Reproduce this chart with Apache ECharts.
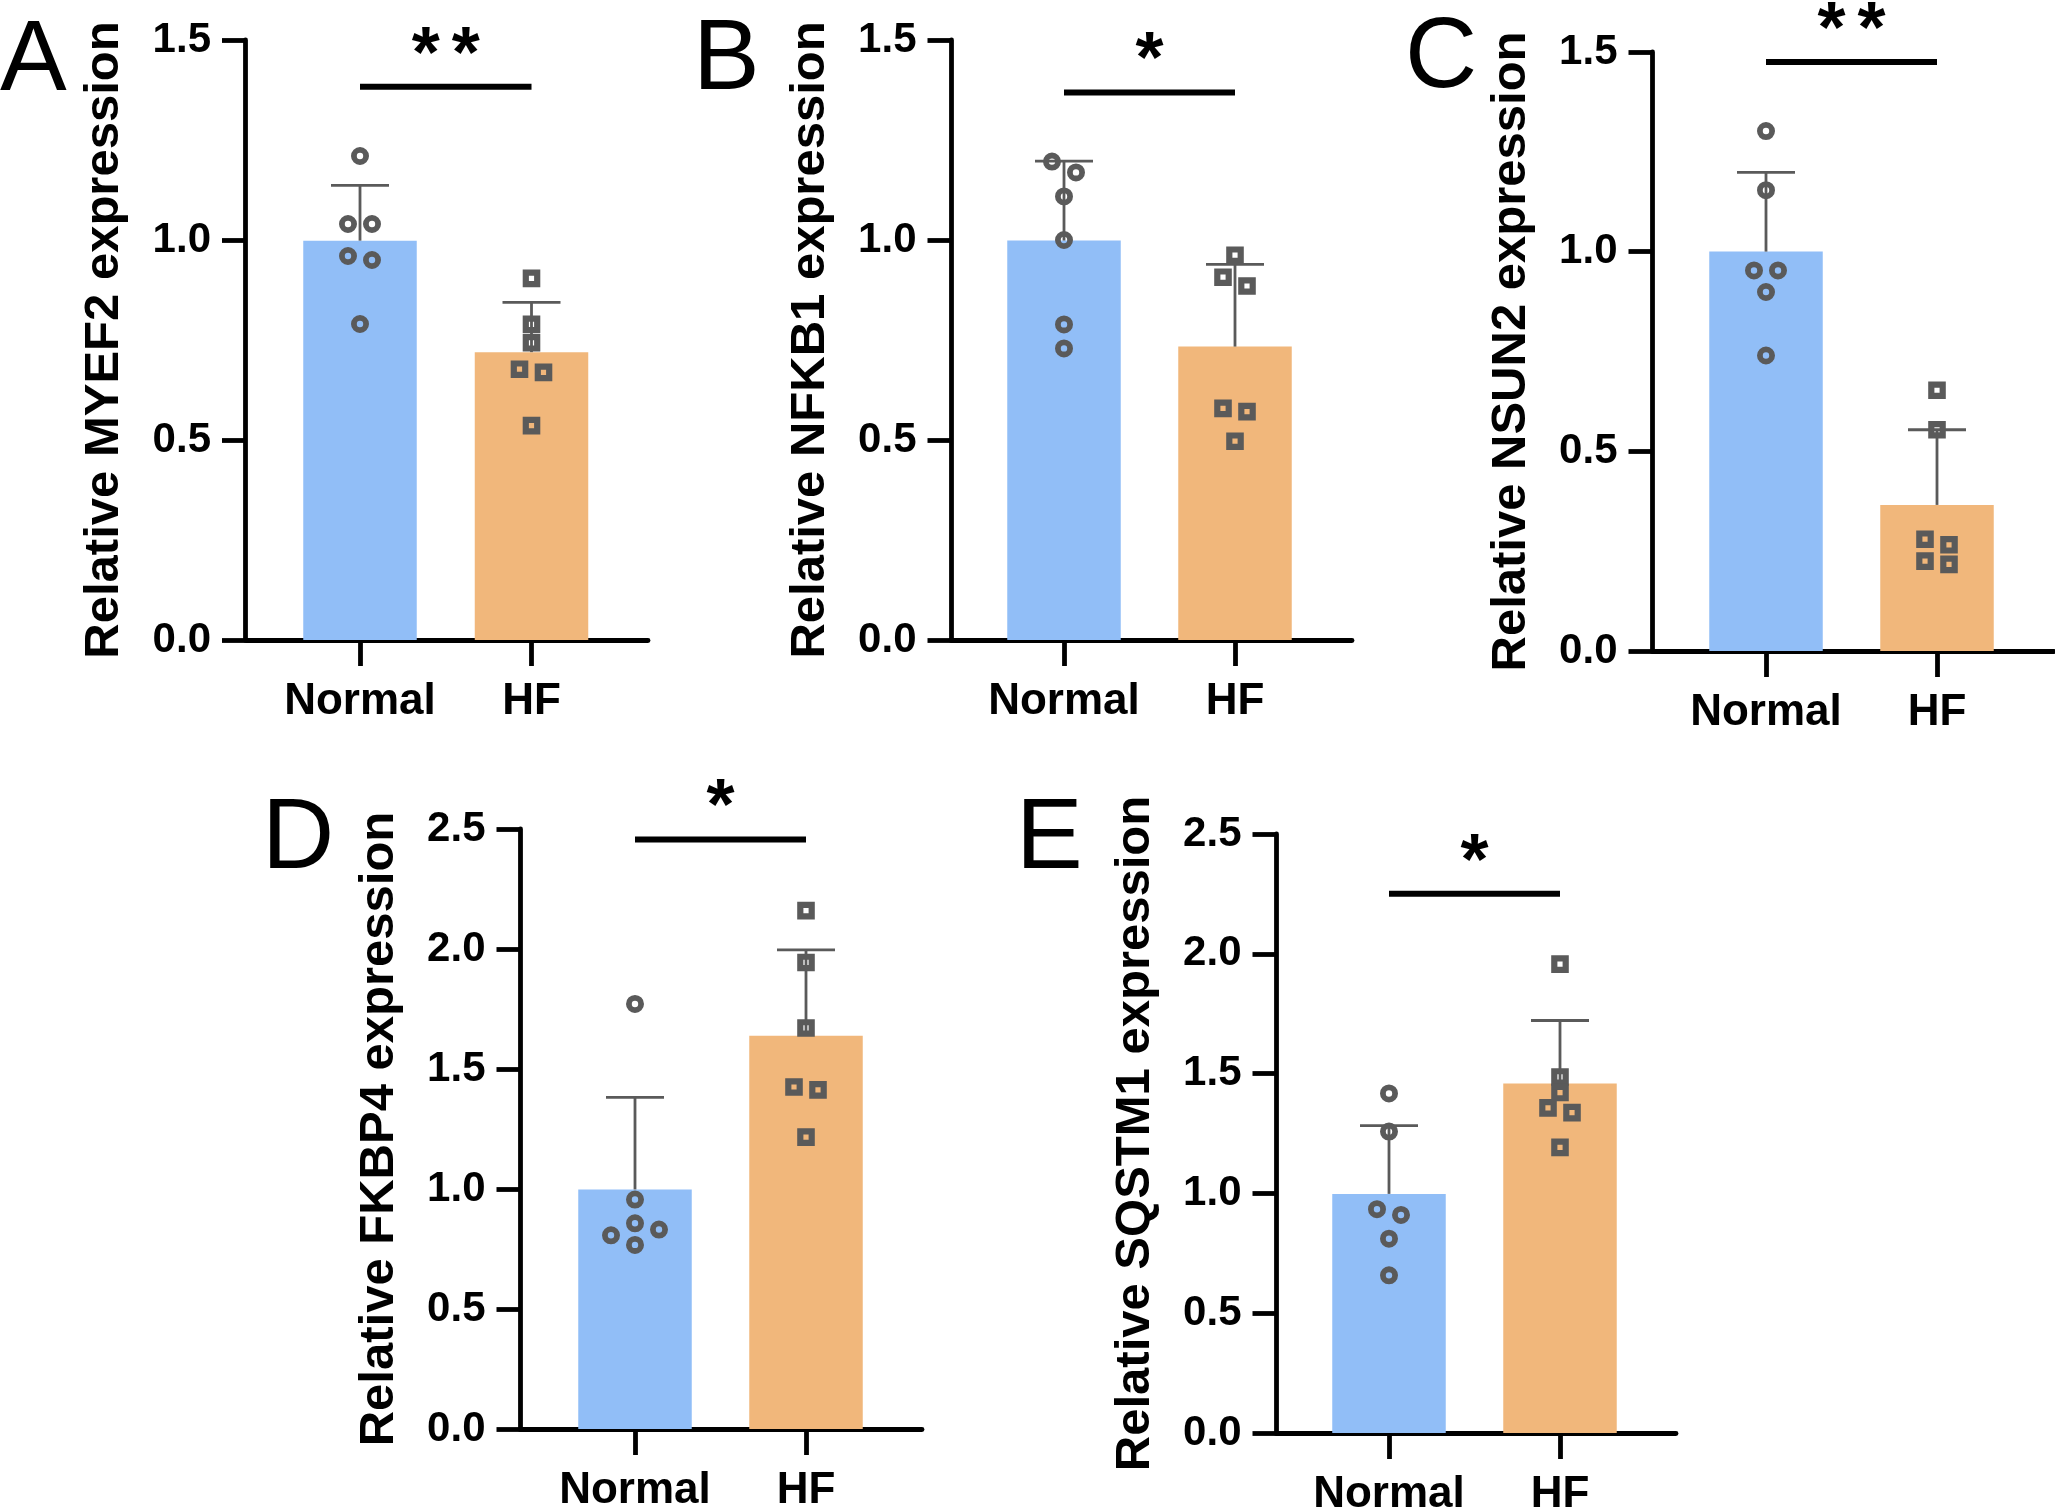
<!DOCTYPE html>
<html>
<head>
<meta charset="utf-8">
<script src="https://cdn.jsdelivr.net/npm/echarts@6/dist/echarts.min.js"></script>
<style>
html,body{margin:0;padding:0;background:#fff;}
#chart{width:2055px;height:1507px;}
</style>
</head>
<body>
<div id="chart"></div>
<script>
// ---------------- data ----------------
const categories = ['Normal', 'HF'];
const panelLetters = ['A', 'B', 'C', 'D', 'E'];
const yTitles = ['Relative MYEF2 expression', 'Relative NFKB1 expression', 'Relative NSUN2 expression',
                 'Relative FKBP4 expression', 'Relative SQSTM1 expression'];
const yMax = [1.5, 1.5, 1.5, 2.5, 2.5];
const yInterval = 0.5;

const normalA = [1.21, 1.04, 1.04, 0.96, 0.95, 0.79];
const hfA     = [0.904, 0.789, 0.743, 0.677, 0.669, 0.536];
const normalB = [1.196, 1.169, 1.109, 1.0, 0.789, 0.729];
const hfB     = [0.962, 0.907, 0.885, 0.579, 0.571, 0.497];
const normalC = [1.302, 1.154, 0.953, 0.953, 0.899, 0.74];
const hfC     = [0.653, 0.554, 0.28, 0.266, 0.225, 0.217];
const normalD = [1.771, 0.956, 0.857, 0.831, 0.807, 0.767];
const hfD     = [2.16, 1.944, 1.671, 1.425, 1.413, 1.216];
const normalE = [1.417, 1.258, 0.934, 0.91, 0.811, 0.658];
const hfE     = [1.957, 1.486, 1.421, 1.357, 1.337, 1.192];

const sigLevels = [1.383, 1.369, 1.475, 2.456, 2.251];
const sigMarks  = ['**', '*', '**', '*', '*'];

const groups = [[normalA, hfA], [normalB, hfB], [normalC, hfC], [normalD, hfD], [normalE, hfE]];

// ---------------- layout / style ----------------
const layout = [
  {ax: 245.5, top: 40,  h: 600, right: 648,  c0: 360,  sp: 171.5, lx: 0,    ly: 62},
  {ax: 951,   top: 40,  h: 600, right: 1352, c0: 1064, sp: 171,   lx: 693,  ly: 61},
  {ax: 1652,  top: 52,  h: 599, right: 2054, c0: 1766, sp: 171,   lx: 1405, ly: 59},
  {ax: 520,   top: 829, h: 600, right: 922,  c0: 635,  sp: 171,   lx: 262,  ly: 840},
  {ax: 1276,  top: 834, h: 599, right: 1676, c0: 1389, sp: 171,   lx: 1016, ly: 840}
];
const FONT = 'Arial, "Liberation Sans", sans-serif';
const barColors = ['#91BEF7', '#F1B77B'];
const markGray = '#5A5A5A';
const AXW = 4.8;

function mean(a) { return a.reduce((s, v) => s + v, 0) / a.length; }
function sd(a) { const m = mean(a); return Math.sqrt(a.reduce((s, v) => s + (v - m) * (v - m), 0) / (a.length - 1)); }

// simple beeswarm: horizontal pixel offsets so that symbols don't overlap
function swarm(values, pxPerUnit) {
  const h = 12, d = 15;
  const order = values.map((v, i) => i).sort((a, b) => values[b] - values[a]);
  const off = new Array(values.length).fill(0);
  const placed = [];
  const cands = [0, 1, -1, 2, -2, 3, -3, 4, -4];
  order.forEach(i => {
    const y = values[i] * pxPerUnit;
    for (const k of cands) {
      const dx = k * h;
      const hit = placed.some(p => Math.abs(p.y - y) < d && Math.abs(p.dx - dx) < d);
      if (!hit) { off[i] = dx; placed.push({y, dx}); break; }
    }
  });
  let cluster = [order[0]];
  const flush = () => {
    const ds = cluster.map(i => off[i]);
    const c = (Math.min(...ds) + Math.max(...ds)) / 2;
    cluster.forEach(i => { off[i] -= c; });
  };
  for (let j = 1; j < order.length; j++) {
    const a = order[j - 1], b = order[j];
    if ((values[a] - values[b]) * pxPerUnit < d) cluster.push(b);
    else { flush(); cluster = [b]; }
  }
  flush();
  return off;
}

const grid = [], xAxis = [], yAxis = [], series = [], graphic = [];

layout.forEach((L, p) => {
  const outer = 2 * p, inner = 2 * p + 1;
  grid.push({left: L.ax, top: L.top, width: L.right - L.ax, height: L.h, containLabel: false, outerBoundsMode: 'none'});
  grid.push({left: L.c0 - L.sp / 2, top: L.top, width: 2 * L.sp, height: L.h, containLabel: false, outerBoundsMode: 'none'});

  xAxis.push({gridIndex: outer, type: 'value', min: 0, max: 1, show: true,
    axisLine: {show: true, lineStyle: {color: '#000', width: AXW}},
    axisTick: {show: false}, axisLabel: {show: false}, splitLine: {show: false}});
  yAxis.push({gridIndex: outer, type: 'value', min: 0, max: yMax[p], interval: yInterval,
    axisLine: {show: true, lineStyle: {color: '#000', width: AXW}},
    axisTick: {show: true, length: 23.5, lineStyle: {color: '#000', width: AXW}},
    axisLabel: {show: true, margin: 34.5, fontSize: 42, fontWeight: 'bold', fontFamily: FONT, color: '#000',
      formatter: v => v.toFixed(1)},
    splitLine: {show: false},
    name: yTitles[p], nameLocation: 'middle', nameGap: 116.5,
    nameTextStyle: {fontSize: 49, fontWeight: 'bold', fontFamily: FONT, color: '#000'}});

  xAxis.push({gridIndex: inner, type: 'category', data: categories,
    axisLine: {show: false},
    axisTick: {show: true, interval: 0, alignWithLabel: true, length: 26, lineStyle: {color: '#000', width: AXW}},
    axisLabel: {show: true, interval: 0, margin: 40, fontSize: 44, fontWeight: 'bold', fontFamily: FONT, color: '#000'},
    splitLine: {show: false}});
  yAxis.push({gridIndex: inner, type: 'value', min: 0, max: yMax[p], show: false, splitLine: {show: false}});

  const [gN, gH] = groups[p];
  const means = [mean(gN), mean(gH)];
  const sds = [sd(gN), sd(gH)];

  series.push({type: 'bar', xAxisIndex: inner, yAxisIndex: inner, barWidth: 113.5, z: 1,
    data: means.map((m, i) => ({value: m, itemStyle: {color: barColors[i]}}))});

  series.push({type: 'custom', xAxisIndex: inner, yAxisIndex: inner, z: 3, clip: false,
    data: means.map((m, i) => [i, m, sds[i]]),
    renderItem: (params, api) => {
      const x = api.value(0), m = api.value(1), s = api.value(2);
      const p0 = api.coord([x, m]), p1 = api.coord([x, m + s]);
      const st = {stroke: markGray, lineWidth: 2.8, fill: null};
      return {type: 'group', children: [
        {type: 'line', shape: {x1: p0[0], y1: p0[1], x2: p1[0], y2: p1[1]}, style: st},
        {type: 'line', shape: {x1: p1[0] - 29, y1: p1[1], x2: p1[0] + 29, y2: p1[1]}, style: st}
      ]};
    }});

  const ppu = L.h / yMax[p];
  [gN, gH].forEach((vals, ci) => {
    const offs = swarm(vals, ppu);
    series.push({type: 'scatter', xAxisIndex: inner, yAxisIndex: inner, z: 4,
      symbol: ci === 0 ? 'circle' : 'rect',
      symbolSize: ci === 0 ? 12.2 : 11.4,
      itemStyle: {color: 'rgba(0,0,0,0)', borderColor: markGray, borderWidth: ci === 0 ? 5.8 : 6.2, opacity: 1},
      data: vals.map((v, k) => ({value: [ci, v], symbolOffset: [offs[k], 0]}))});
  });

  series.push({type: 'custom', xAxisIndex: inner, yAxisIndex: inner, z: 5, clip: false,
    data: [[0, sigLevels[p]]],
    renderItem: (params, api) => {
      const y = api.value(1);
      const a = api.coord([0, y]), b = api.coord([1, y]);
      const mark = sigMarks[p];
      const cx = (a[0] + b[0]) / 2;
      const children = [{type: 'line', shape: {x1: a[0], y1: a[1], x2: b[0], y2: b[1]},
        style: {stroke: '#000', lineWidth: 6}}];
      for (let i = 0; i < mark.length; i++) {
        children.push({type: 'text', style: {text: '*', x: cx + (i - (mark.length - 1) / 2) * 40, y: a[1] - 30,
          textAlign: 'center', textVerticalAlign: 'middle', font: 'bold 72px ' + FONT, fill: '#000'}});
      }
      return {type: 'group', children};
    }});

  graphic.push({type: 'text', style: {text: panelLetters[p], x: L.lx, y: L.ly,
    textAlign: 'left', textVerticalAlign: 'middle', font: '100px ' + FONT, fill: '#000'}});
});

const chart = echarts.init(document.getElementById('chart'), null, {renderer: 'canvas'});
chart.setOption({animation: false, backgroundColor: '#fff', grid, xAxis, yAxis, series, graphic});
</script>
</body>
</html>
